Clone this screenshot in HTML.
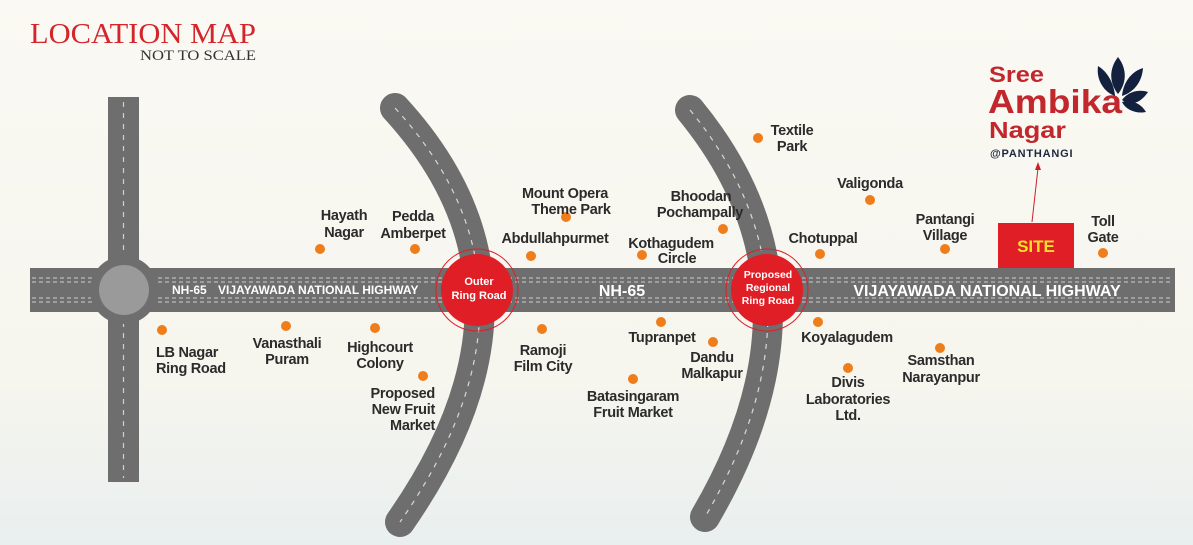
<!DOCTYPE html>
<html><head><meta charset="utf-8"><style>
html,body{margin:0;padding:0}
body{width:1193px;height:545px;overflow:hidden;background:linear-gradient(#faf9f3 0%,#f6f5ee 70%,#e9efef 100%);font-family:"Liberation Sans",sans-serif}
svg{position:absolute;left:0;top:0}
.l{font-family:"Liberation Sans",sans-serif;font-weight:bold;font-size:14.5px;fill:#2b2b2b;letter-spacing:-0.3px}
</style></head><body>
<svg width="1193" height="545" viewBox="0 0 1193 545">
<!-- title -->
<text x="30" y="43" font-family="Liberation Serif" font-size="28" fill="#d4242c" textLength="226" lengthAdjust="spacingAndGlyphs">LOCATION MAP</text>
<text x="140" y="60" font-family="Liberation Serif" font-size="15" fill="#333" textLength="116" lengthAdjust="spacingAndGlyphs">NOT TO SCALE</text>

<!-- vertical road -->
<rect x="108" y="97" width="31" height="385" fill="#6e6e6e"/>
<line x1="123.5" y1="102" x2="123.5" y2="478" stroke="#cfcfcf" stroke-width="1.2" stroke-dasharray="5 6"/>
<!-- highway -->
<rect x="30" y="268" width="1145" height="44" fill="#6e6e6e"/>
<g stroke="#cfcfcf" stroke-width="1" stroke-dasharray="4 3">
<line x1="32" y1="278" x2="1173" y2="278"/><line x1="32" y1="282" x2="1173" y2="282"/>
<line x1="32" y1="298" x2="1173" y2="298"/><line x1="32" y1="302" x2="1173" y2="302"/>
</g>
<circle cx="124" cy="290" r="34" fill="#6e6e6e"/>
<circle cx="124" cy="290" r="25" fill="#9a9a9a"/>

<!-- curves -->
<path d="M395 108 Q562 290 400 522" fill="none" stroke="#6e6e6e" stroke-width="30" stroke-linecap="round"/>
<path d="M395 108 Q562 290 400 522" fill="none" stroke="#d8d8d8" stroke-width="1.2" stroke-dasharray="5 6"/>
<path d="M690 110 Q838 290 705 517" fill="none" stroke="#6e6e6e" stroke-width="30" stroke-linecap="round"/>
<path d="M690 110 Q838 290 705 517" fill="none" stroke="#d8d8d8" stroke-width="1.2" stroke-dasharray="5 6"/>

<!-- highway text -->
<text x="172" y="294" fill="#fff" font-weight="bold" font-size="12" font-family="Liberation Sans">NH-65 <tspan dx="8">VIJAYAWADA NATIONAL HIGHWAY</tspan></text>
<text x="622" y="296" fill="#fff" font-weight="bold" font-size="16" font-family="Liberation Sans" text-anchor="middle">NH-65</text>
<text x="987" y="296" fill="#fff" font-weight="bold" font-size="16" font-family="Liberation Sans" text-anchor="middle">VIJAYAWADA NATIONAL HIGHWAY</text>

<!-- red circles -->
<circle cx="477" cy="290" r="41" fill="none" stroke="#e01e26" stroke-width="1"/>
<circle cx="477" cy="290" r="36" fill="#e01e26"/>
<text x="479" y="285" fill="#fff" font-weight="bold" font-size="11" text-anchor="middle" font-family="Liberation Sans">Outer</text>
<text x="479" y="299" fill="#fff" font-weight="bold" font-size="11" text-anchor="middle" font-family="Liberation Sans">Ring Road</text>
<circle cx="767" cy="290" r="41" fill="none" stroke="#e01e26" stroke-width="1"/>
<circle cx="767" cy="290" r="36" fill="#e01e26"/>
<text x="768" y="278" fill="#fff" font-weight="bold" font-size="10.5" text-anchor="middle" font-family="Liberation Sans">Proposed</text>
<text x="768" y="291" fill="#fff" font-weight="bold" font-size="10.5" text-anchor="middle" font-family="Liberation Sans">Regional</text>
<text x="768" y="304" fill="#fff" font-weight="bold" font-size="10.5" text-anchor="middle" font-family="Liberation Sans">Ring Road</text>

<!-- dots -->
<g fill="#ef7d1a">
<circle cx="320" cy="249" r="5"/><circle cx="415" cy="249" r="5"/><circle cx="531" cy="256" r="5"/>
<circle cx="566" cy="217" r="5"/><circle cx="642" cy="255" r="5"/><circle cx="723" cy="229" r="5"/>
<circle cx="758" cy="138" r="5"/><circle cx="870" cy="200" r="5"/><circle cx="820" cy="254" r="5"/>
<circle cx="945" cy="249" r="5"/><circle cx="1103" cy="253" r="5"/><circle cx="162" cy="330" r="5"/>
<circle cx="286" cy="326" r="5"/><circle cx="375" cy="328" r="5"/><circle cx="423" cy="376" r="5"/>
<circle cx="542" cy="329" r="5"/><circle cx="661" cy="322" r="5"/><circle cx="713" cy="342" r="5"/>
<circle cx="633" cy="379" r="5"/><circle cx="818" cy="322" r="5"/><circle cx="848" cy="368" r="5"/>
<circle cx="940" cy="348" r="5"/>
</g>

<!-- labels -->
<g class="l" text-anchor="middle">
<text x="344" y="220">Hayath</text><text x="344" y="237">Nagar</text>
<text x="413" y="221">Pedda</text><text x="413" y="238">Amberpet</text>
<text x="555" y="243">Abdullahpurmet</text>
<text x="565" y="198">Mount Opera</text><text x="571" y="214">Theme Park</text>
<text x="671" y="248">Kothagudem</text><text x="677" y="263">Circle</text>
<text x="701" y="201">Bhoodan</text><text x="700" y="217">Pochampally</text>
<text x="792" y="135">Textile</text><text x="792" y="151">Park</text>
<text x="870" y="188">Valigonda</text>
<text x="823" y="243">Chotuppal</text>
<text x="945" y="224">Pantangi</text><text x="945" y="240">Village</text>
<text x="1103" y="226">Toll</text><text x="1103" y="242">Gate</text>
<text x="287" y="348">Vanasthali</text><text x="287" y="364">Puram</text>
<text x="380" y="352">Highcourt</text><text x="380" y="368">Colony</text>
<text x="543" y="355">Ramoji</text><text x="543" y="371">Film City</text>
<text x="662" y="342">Tupranpet</text>
<text x="712" y="362">Dandu</text><text x="712" y="378">Malkapur</text>
<text x="633" y="401">Batasingaram</text><text x="633" y="417">Fruit Market</text>
<text x="847" y="342">Koyalagudem</text>
<text x="848" y="387">Divis</text><text x="848" y="404">Laboratories</text><text x="848" y="420">Ltd.</text>
<text x="941" y="365">Samsthan</text><text x="941" y="382">Narayanpur</text>
</g>
<g class="l" text-anchor="start">
<text x="156" y="357">LB Nagar</text><text x="156" y="373">Ring Road</text>
</g>
<g class="l" text-anchor="end">
<text x="435" y="398">Proposed</text><text x="435" y="414">New Fruit</text><text x="435" y="430">Market</text>
</g>

<!-- site -->
<rect x="998" y="223" width="76" height="45" fill="#e01e26"/>
<text x="1036" y="252" fill="#f5e02a" font-weight="bold" font-size="17" text-anchor="middle" font-family="Liberation Sans">SITE</text>
<line x1="1032" y1="222" x2="1038" y2="168" stroke="#c8202a" stroke-width="1"/>
<path d="M1038 162 L1035 170 L1041 170 Z" fill="#c8202a"/>

<!-- logo -->
<g font-family="Liberation Sans" font-weight="bold" fill="#c2272d">
<text x="989" y="82" font-size="22" textLength="55" lengthAdjust="spacingAndGlyphs">Sree</text>
<text x="988" y="113" font-size="33" textLength="134" lengthAdjust="spacingAndGlyphs">Ambika</text>
<text x="989" y="138" font-size="23" textLength="77" lengthAdjust="spacingAndGlyphs">Nagar</text>
</g>
<text x="990" y="157" font-family="Liberation Sans" font-weight="bold" font-size="11" fill="#1d2740" letter-spacing="0.8">@PANTHANGI</text>
<g fill="#13213f">
<path d="M1118 57 C1108 70 1110 84 1118 94 C1126 84 1128 70 1118 57 Z"/>
<path d="M1098 66 C1096 80 1104 92 1115 96 C1114 84 1108 72 1098 66 Z"/>
<path d="M1143 68 C1130 72 1123 84 1122 96 C1134 92 1142 82 1143 68 Z"/>
<path d="M1148 92 C1136 88 1126 94 1122 100 C1130 106 1140 104 1148 92 Z"/>
<path d="M1146 112 C1140 102 1130 100 1122 102 C1126 110 1136 114 1146 112 Z"/>
</g>
</svg>
</body></html>
